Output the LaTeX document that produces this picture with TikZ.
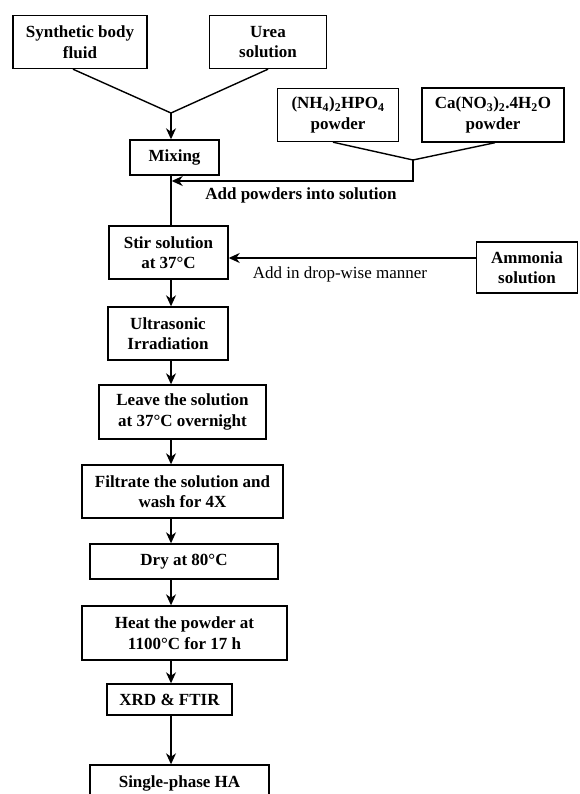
\documentclass[tikz,border=0pt]{standalone}
\usepackage{fontspec}
\setmainfont{Liberation Serif}
\usetikzlibrary{arrows.meta}

\begin{document}
\begin{tikzpicture}[
  x=1pt,y=-1pt,
  line width=1.4pt,
  box/.style={draw,font=\bfseries\fontsize{17}{20.5}\selectfont,align=center,inner sep=0pt},
  note/.style={font=\fontsize{17}{20}\selectfont,inner sep=0pt},
  arr/.style={-{Stealth[length=11pt,width=10pt,inset=3.5pt]}}
]
\clip (0,0) rectangle (580,794);
% top inputs
\node[box,minimum width=134pt,minimum height=53pt] (synth) at (80,42) {Synthetic body\\fluid};
\node[box,minimum width=117pt,minimum height=53pt] (urea) at (268,42) {Urea\\solution};
\node[box,minimum width=121pt,minimum height=53pt] (nhp) at (338,115) {(NH\textsubscript{4})\textsubscript{2}HPO\textsubscript{4}\\powder};
\node[box,minimum width=142pt,minimum height=54pt] (cano) at (493,115) {Ca(NO\textsubscript{3})\textsubscript{2}.4H\textsubscript{2}O\\powder};
\node[box,minimum width=89pt,minimum height=35pt] (mix) at (174.5,157.5) {Mixing};
\node[note,font=\bfseries\fontsize{17}{20}\selectfont] (addp) at (301,195) {Add powders into solution};
% main chain
\node[box,minimum width=119pt,minimum height=53pt] (stir) at (168.5,252.5) {Stir solution\\at 37°C};
\node[box,minimum width=101pt,minimum height=51pt] (amm) at (527,267.5) {Ammonia\\solution};
\node[note] (drop) at (340,274) {Add in drop-wise manner};
\node[box,minimum width=120pt,minimum height=53pt] (ultra) at (168,333.5) {Ultrasonic\\Irradiation};
\node[box,minimum width=167pt,minimum height=54pt] (leave) at (182.5,412) {Leave the solution\\at 37°C overnight};
\node[box,minimum width=201pt,minimum height=53pt] (filt) at (182.5,491.5) {Filtrate the solution and\\wash for 4X};
\node[box,minimum width=188pt,minimum height=35pt] (dry) at (184,561.5) {Dry at 80°C};
\node[box,minimum width=205pt,minimum height=54pt] (heat) at (184.5,633) {Heat the powder at\\1100°C for 17 h};
\node[box,minimum width=125pt,minimum height=31pt] (xrd) at (169.5,699.5) {XRD \& FTIR};
\node[box,minimum width=179pt,minimum height=36pt] (ha) at (179.5,783) {Single-phase HA};

\coordinate (ax) at (171,0);
\coordinate (join) at (171,113);
\coordinate (pj) at (413,160);
\coordinate (pin) at (0,181);
\coordinate (dw) at (0,258);

\draw ([xshift=-7pt]synth.south) -- (join);
\draw (urea.south) -- (join);
\draw[arr] (join) -- (join |- mix.north);
\draw (mix.south -| ax) -- (stir.north -| ax);
\draw ([xshift=-5pt]nhp.south) -- (pj);
\draw ([xshift=2pt]cano.south) -- (pj);
\draw[arr] (pj) -- (pj |- pin) -- ([xshift=0.7pt]ax |- pin);
\draw[arr] (amm.west |- dw) -- (stir.east |- dw);
\draw[arr] (stir.south -| ax) -- (ultra.north -| ax);
\draw[arr] (ultra.south -| ax) -- (leave.north -| ax);
\draw[arr] (leave.south -| ax) -- (filt.north -| ax);
\draw[arr] (filt.south -| ax) -- (dry.north -| ax);
\draw[arr] (dry.south -| ax) -- (heat.north -| ax);
\draw[arr] (heat.south -| ax) -- (xrd.north -| ax);
\draw[arr] (xrd.south -| ax) -- (ha.north -| ax);
\end{tikzpicture}
\end{document}
